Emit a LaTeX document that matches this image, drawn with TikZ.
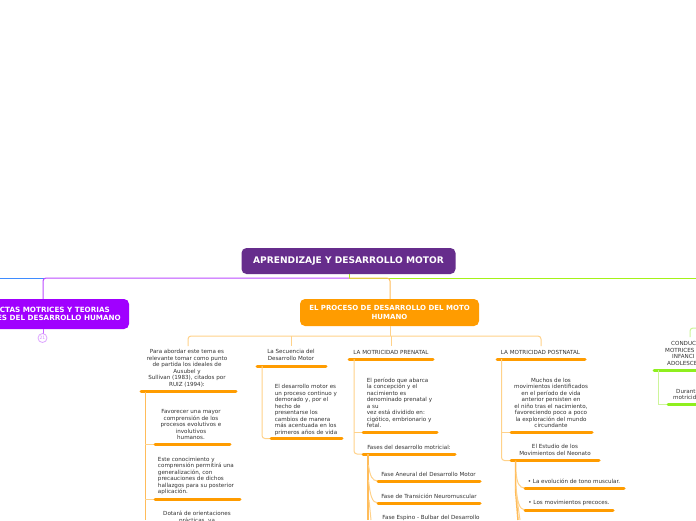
\documentclass[tikz,border=0pt]{standalone}
\usepackage{fontspec}
\setmainfont{DejaVu Sans}
\definecolor{cpurple}{HTML}{662D8C}
\definecolor{cviolet}{HTML}{A000FF}
\definecolor{corange}{HTML}{FF9C00}
\definecolor{clight}{HTML}{FFD28A}
\definecolor{cmid}{HTML}{FFBC5A}
\definecolor{cgreen}{HTML}{8FEF1E}
\definecolor{clgreen}{HTML}{CDF59A}
\definecolor{cblue}{HTML}{3F8CFF}
\definecolor{ctext}{HTML}{333333}
\tikzset{x=1pt,y=-1pt,
 t/.style={font=\fontsize{5.6}{6.5}\selectfont,text=ctext,align=center,inner sep=0pt,anchor=center},
 tl/.style={t,align=left},
 bar/.style={draw=corange,line width=3pt,line cap=round},
 gbar/.style={draw=cgreen,line width=3pt,line cap=round},
 lk/.style={draw=clight,line width=1pt,rounded corners=3pt},
 lm/.style={draw=cmid,line width=1pt,rounded corners=3pt},
 curve/.style={draw=clight,line width=1pt},
 topbox/.style={rounded corners=5pt,font=\bfseries\fontsize{7}{9}\selectfont,text=white,align=center,inner sep=0pt}}
\begin{document}
\begin{tikzpicture}
\useasboundingbox (0,0) rectangle (696,520);
\fill[white] (0,0) rectangle (696,520);
% main links
\draw[cblue,line width=1pt] (0,278) -- (45,278);
\draw[cviolet!70,line width=1pt,rounded corners=3pt] (349,278) -- (43,278) -- (43,299);
\draw[cgreen!80!yellow,line width=1pt] (349,274) -- (349,278) -- (696,278);
\draw[cmid,line width=1pt,rounded corners=3pt] (349,278) -- (390,278) -- (390,299);
% root
\node[topbox,fill=cpurple,minimum width=214pt,minimum height=26pt,font=\bfseries\fontsize{9.1}{11}\selectfont] (root) at (348.5,261) {APRENDIZAJE Y DESARROLLO MOTOR};
% violet
\fill[cviolet,rounded corners=5pt] (-20,299) rectangle (129,329);
\node[topbox,align=right,anchor=east,font=\bfseries\fontsize{7.2}{8.2}\selectfont] (viol) at (121,314) {CTAS MOTRICES Y TEORIAS\hspace*{11pt}\\LES DEL DESARROLLO HUMANO};
\draw[cviolet!60,line width=1pt] (43,329) -- (43,334);
\node[circle,draw=cviolet!35,line width=.8pt,minimum size=9pt,inner sep=0pt,font=\fontsize{4.5}{5}\selectfont,text=cviolet!45] (count) at (42.5,338) {21};
% orange
\node[topbox,fill=corange,minimum width=179pt,minimum height=27pt] (proc) at (389.5,312.5) {EL PROCESO DE DESARROLLO DEL MOTO\\HUMANO};
\draw[lk] (390,326) -- (390,336);
\draw[lk] (188,346) -- (188,336) -- (541,336) -- (541,346);
\draw[lk] (291.5,336) -- (291.5,346);
\draw[lk] (391,336) -- (391,346);
% column 1
\node[t] (a) at (187,368) {Para abordar este tema es\\relevante tomar como punto\\de partida los ideales de\\Ausubel y\\Sullivan (1983), citados por\\RUIZ (1994):};
\draw[bar] (141,391.5) -- (236,391.5);
\draw[lm] (145,392) -- (145,520);
\draw[lk] (145,444.5) -- (155,444.5);
\draw[lk] (145,499) -- (155,499);
\node[t] (a1) at (191,424.5) {Favorecer una mayor\\comprensión de los\\procesos evolutivos e\\involutivos\\humanos.};
\draw[bar] (155,444.5) -- (230,444.5);
\node[tl] (a2) at (196,476) {Este conocimiento y\\comprensión permitirá una\\generalización, con\\precauciones de dichos\\hallazgos para su posterior\\aplicación.};
\draw[bar] (155,499) -- (240,499);
\node[t] (a3) at (197,517.5) {Dotará de orientaciones\\prácticas, ya};
% column 2
\node[t] (b) at (291,355) {La Secuencia del\\Desarrollo Motor};
\draw[bar] (257,366) -- (326,366);
\draw[lk] (262,366) -- (262,438.5) -- (271,438.5);
\node[tl] (b1) at (306,410) {El desarrollo motor es\\un proceso continuo y\\demorado y, por el\\hecho de\\presentarse los\\cambios de manera\\más acentuada en los\\primeros años de vida};
\draw[bar] (271,438.5) -- (342,438.5);
% column 3
\node[t] (c) at (391,352) {LA MOTRICIDAD PRENATAL};
\draw[bar] (349,359) -- (433,359);
\draw[lk] (354,359) -- (354,454) -- (363,454);
\draw[lk] (354,432) -- (363,432);
\node[tl] (c1) at (399.5,403) {El período que abarca\\la concepción y el\\nacimiento es\\denominado prenatal y\\a su\\vez está dividido en:\\cigótico, embrionario y\\fetal.};
\draw[bar] (363,432) -- (437,432);
\node[tl] (c2) at (409,447) {Fases del desarrollo motricial:};
\draw[bar] (363,454) -- (455,454);
\draw[cmid,line width=1.5pt] (368,454) -- (368,520);
\draw[curve] (368.5,465) .. controls (370,476) and (372,481) .. (378,481);
\draw[curve] (368.5,480) .. controls (370,495) and (372,503) .. (378,503);
\draw[curve] (369,500) -- (371,520);
\node[t] (c3) at (428.5,474) {Fase Aneural del Desarrollo Motor};
\draw[bar] (378,481) -- (480,481);
\node[t] (c4) at (429,496) {Fase de Transición Neuromuscular};
\draw[bar] (378,503) -- (480,503);
\node[t] (c5) at (431,518) {Fase Espino - Bulbar del Desarrollo};
% column 4
\node[t] (d) at (540.5,352) {LA MOTRICIDAD POSTNATAL};
\draw[bar] (497,359) -- (585,359);
\draw[lk] (501.5,359) -- (501.5,460.5) -- (511,460.5);
\draw[lk] (501.5,432) -- (511,432);
\node[t] (d1) at (551,403) {Muchos de los\\movimientos identificados\\en el período de vida\\anterior persisten en\\el niño tras el nacimiento,\\favoreciendo poco a poco\\la exploración del mundo\\circundante};
\draw[bar] (511,432) -- (592,432);
\node[t] (d2) at (555,450) {El Estudio de los\\Movimientos del Neonato};
\draw[bar] (511,460.5) -- (599,460.5);
\draw[cmid,line width=1.5pt] (515.5,460.5) -- (515.5,490) -- (518,520);
\draw[curve] (516,472) .. controls (517,483) and (519,488) .. (525,488);
\draw[curve] (516,486) .. controls (517,500) and (519,510) .. (525,510);
\draw[curve] (516.5,495) -- (520,520);
\node[t] (d3) at (574,481) {• La evolución de tono muscular.};
\draw[bar] (525,488) -- (624,488);
\node[t] (d4) at (569,503) {• Los movimientos precoces.};
\draw[bar] (525,510) -- (613,510);
% green
\draw[clgreen,line width=1pt,rounded corners=3pt] (690,337) -- (690,328) -- (700,328);
\node[tl,anchor=west] (e) at (665,353.5) {\hspace{6pt}CONDUC\\MOTRICES\\\hspace{7pt}INFANCI\\\hspace{2pt}ADOLESCE};
\draw[gbar] (654,370) -- (700,370);
\draw[clgreen,line width=1pt] (658,370) -- (658,404) -- (668,404);
\node[tl,anchor=west] (e1) at (673,394.5) {\hspace{3pt}Durant\\motricid};
\draw[gbar] (668,404) -- (700,404);
\end{tikzpicture}
\end{document}
